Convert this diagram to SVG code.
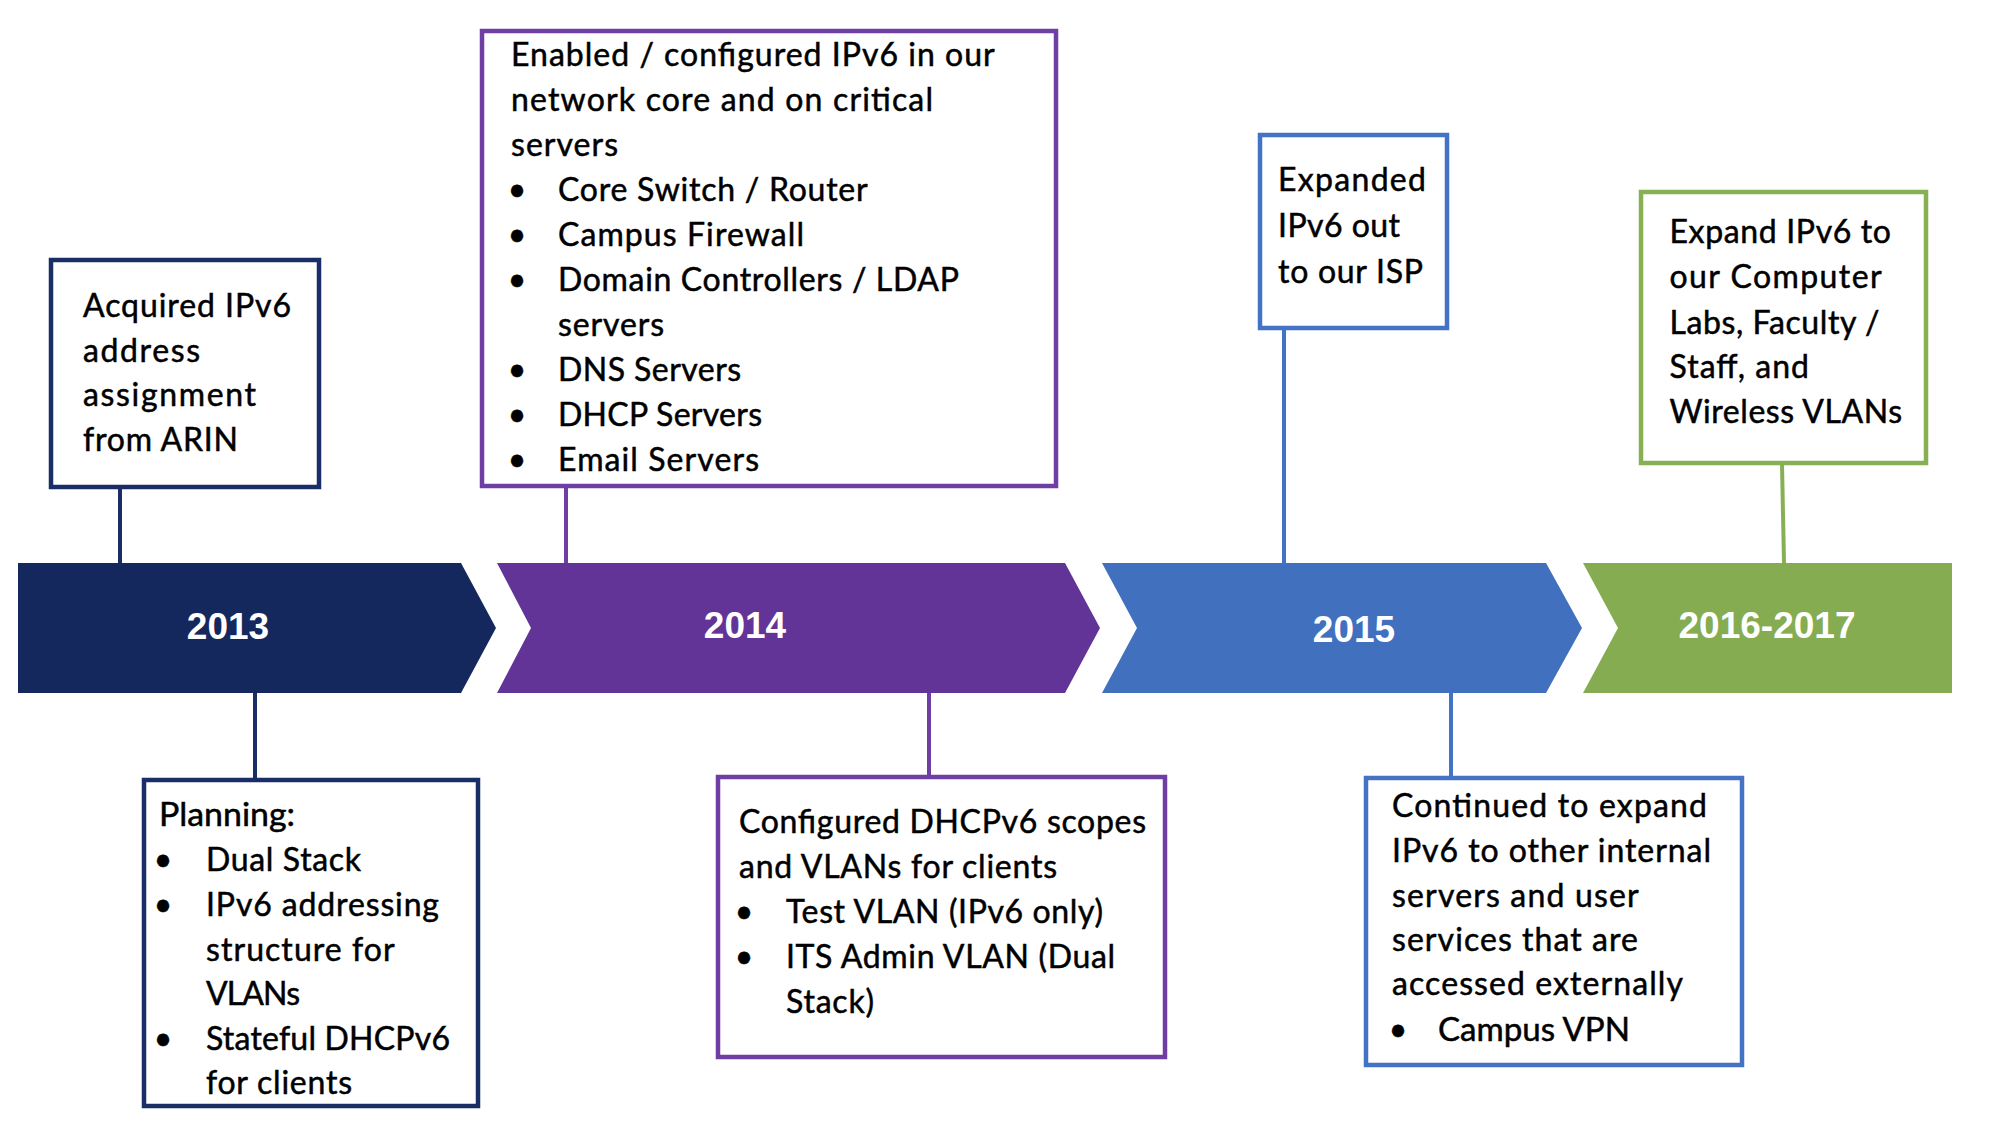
<svg xmlns="http://www.w3.org/2000/svg" width="2000" height="1125" viewBox="0 0 2000 1125">
<style>
.bx{fill:#ffffff;stroke-width:4.5}
.t{font-family:Lato,"Open Sans",sans-serif;font-size:32px;fill:#000000;stroke:#000000;stroke-width:0.5}
.yr{font-family:"Liberation Sans",Arial,sans-serif;font-weight:bold;font-size:37px;fill:#ffffff;text-anchor:middle}
.bu{text-anchor:middle}
.c{stroke-width:4;fill:none}
.navy{stroke:#1a2d66}
.purple{stroke:#6e3ea5}
.blue{stroke:#4472c4}
.green{stroke:#87b054}
</style>
<rect width="2000" height="1125" fill="#ffffff"/>
<g id="connectors">
<line class="c navy" x1="120" y1="488" x2="120" y2="563"/>
<line class="c navy" x1="255" y1="693" x2="255" y2="778"/>
<line class="c purple" x1="566" y1="487" x2="566" y2="563"/>
<line class="c purple" x1="929" y1="693" x2="929" y2="775"/>
<line class="c blue" x1="1284" y1="329" x2="1284" y2="563"/>
<line class="c blue" x1="1451" y1="693" x2="1451" y2="776"/>
<line class="c green" x1="1782" y1="464" x2="1784" y2="563"/>
</g>
<g id="band-2013">
<path d="M18,563 L461,563 L496,628 L461,693 L18,693 Z" fill="#14285e"/>
<text class="yr" x="228" y="639">2013</text>
</g>
<g id="band-2014">
<path d="M497,563 L1065,563 L1100,628 L1065,693 L497,693 L531,628 Z" fill="#633498"/>
<text class="yr" x="745" y="638">2014</text>
</g>
<g id="band-2015">
<path d="M1102,563 L1546,563 L1582,628 L1546,693 L1102,693 L1137,628 Z" fill="#4170be"/>
<text class="yr" x="1354" y="642">2015</text>
</g>
<g id="band-2016-2017">
<path d="M1583,563 L1952,563 L1952,693 L1583,693 L1618,628 Z" fill="#85ac50"/>
<text class="yr" x="1767" y="638">2016-2017</text>
</g>
<g id="box-2013-top">
<rect class="bx navy" x="51" y="260" width="268" height="227"/>
<text class="t" lengthAdjust="spacingAndGlyphs">
<tspan x="83" y="317" textLength="208">Acquired IPv6</tspan>
<tspan x="83" y="362" textLength="117">address</tspan>
<tspan x="83" y="406" textLength="173">assignment</tspan>
<tspan x="83" y="451" textLength="155">from ARIN</tspan>
</text>
</g>
<g id="box-2013-bottom">
<rect class="bx navy" x="144" y="780" width="334" height="326"/>
<text class="t">
<tspan x="159" y="826" textLength="136" lengthAdjust="spacingAndGlyphs">Planning:</tspan>
</text>
<text class="t bu"><tspan x="163" y="871">•</tspan><tspan x="163" y="916">•</tspan><tspan x="163" y="1050">•</tspan></text>
<text class="t" lengthAdjust="spacingAndGlyphs">
<tspan x="206" y="871" textLength="155">Dual Stack</tspan>
<tspan x="206" y="916" textLength="233">IPv6 addressing</tspan>
<tspan x="206" y="961" textLength="188">structure for</tspan>
<tspan x="206" y="1005" textLength="94">VLANs</tspan>
<tspan x="206" y="1050" textLength="244">Stateful DHCPv6</tspan>
<tspan x="206" y="1094" textLength="146">for clients</tspan>
</text>
</g>
<g id="box-2014-top">
<rect class="bx purple" x="482" y="31" width="574" height="455"/>
<text class="t" lengthAdjust="spacingAndGlyphs">
<tspan x="511" y="65.5" textLength="483">Enabled / configured IPv6 in our</tspan>
<tspan x="511" y="110.6" textLength="422">network core and on critical</tspan>
<tspan x="511" y="155.6" textLength="107">servers</tspan>
</text>
<text class="t bu"><tspan x="517" y="200.7">•</tspan><tspan x="517" y="245.8">•</tspan><tspan x="517" y="290.9">•</tspan><tspan x="517" y="381">•</tspan><tspan x="517" y="426">•</tspan><tspan x="517" y="471.1">•</tspan></text>
<text class="t" lengthAdjust="spacingAndGlyphs">
<tspan x="558" y="200.7" textLength="309">Core Switch / Router</tspan>
<tspan x="558" y="245.8" textLength="246">Campus Firewall</tspan>
<tspan x="558" y="290.9" textLength="400">Domain Controllers / LDAP</tspan>
<tspan x="558" y="335.9" textLength="106">servers</tspan>
<tspan x="558" y="381" textLength="183">DNS Servers</tspan>
<tspan x="558" y="426" textLength="204">DHCP Servers</tspan>
<tspan x="558" y="471.1" textLength="201">Email Servers</tspan>
</text>
</g>
<g id="box-2014-bottom">
<rect class="bx purple" x="718" y="777" width="447" height="280"/>
<text class="t" lengthAdjust="spacingAndGlyphs">
<tspan x="739" y="833" textLength="407">Configured DHCPv6 scopes</tspan>
<tspan x="739" y="878" textLength="318">and VLANs for clients</tspan>
</text>
<text class="t bu"><tspan x="744" y="923">•</tspan><tspan x="744" y="968">•</tspan></text>
<text class="t" lengthAdjust="spacingAndGlyphs">
<tspan x="786" y="923" textLength="317">Test VLAN (IPv6 only)</tspan>
<tspan x="786" y="968" textLength="329">ITS Admin VLAN (Dual</tspan>
<tspan x="786" y="1013" textLength="88">Stack)</tspan>
</text>
</g>
<g id="box-2015-top">
<rect class="bx blue" x="1260" y="135" width="187" height="193"/>
<text class="t" lengthAdjust="spacingAndGlyphs">
<tspan x="1278" y="191" textLength="148">Expanded</tspan>
<tspan x="1278" y="237" textLength="122">IPv6 out</tspan>
<tspan x="1278" y="283" textLength="145">to our ISP</tspan>
</text>
</g>
<g id="box-2015-bottom">
<rect class="bx blue" x="1366" y="778" width="376" height="287"/>
<text class="t" lengthAdjust="spacingAndGlyphs">
<tspan x="1392" y="817" textLength="315">Continued to expand</tspan>
<tspan x="1392" y="862" textLength="319">IPv6 to other internal</tspan>
<tspan x="1392" y="907" textLength="246">servers and user</tspan>
<tspan x="1392" y="951" textLength="246">services that are</tspan>
<tspan x="1392" y="995" textLength="291">accessed externally</tspan>
</text>
<text class="t bu"><tspan x="1398" y="1041">•</tspan></text>
<text class="t"><tspan x="1438" y="1041" textLength="192" lengthAdjust="spacingAndGlyphs">Campus VPN</tspan></text>
</g>
<g id="box-2016-2017">
<rect class="bx green" x="1641" y="192" width="285" height="271"/>
<text class="t" lengthAdjust="spacingAndGlyphs">
<tspan x="1669.5" y="243" textLength="221.5">Expand IPv6 to</tspan>
<tspan x="1669.5" y="288" textLength="211.5">our Computer</tspan>
<tspan x="1669.5" y="334" textLength="210">Labs, Faculty /</tspan>
<tspan x="1669.5" y="378" textLength="139.5">Staff, and</tspan>
<tspan x="1669.5" y="423" textLength="232.5">Wireless VLANs</tspan>
</text>
</g>
</svg>
